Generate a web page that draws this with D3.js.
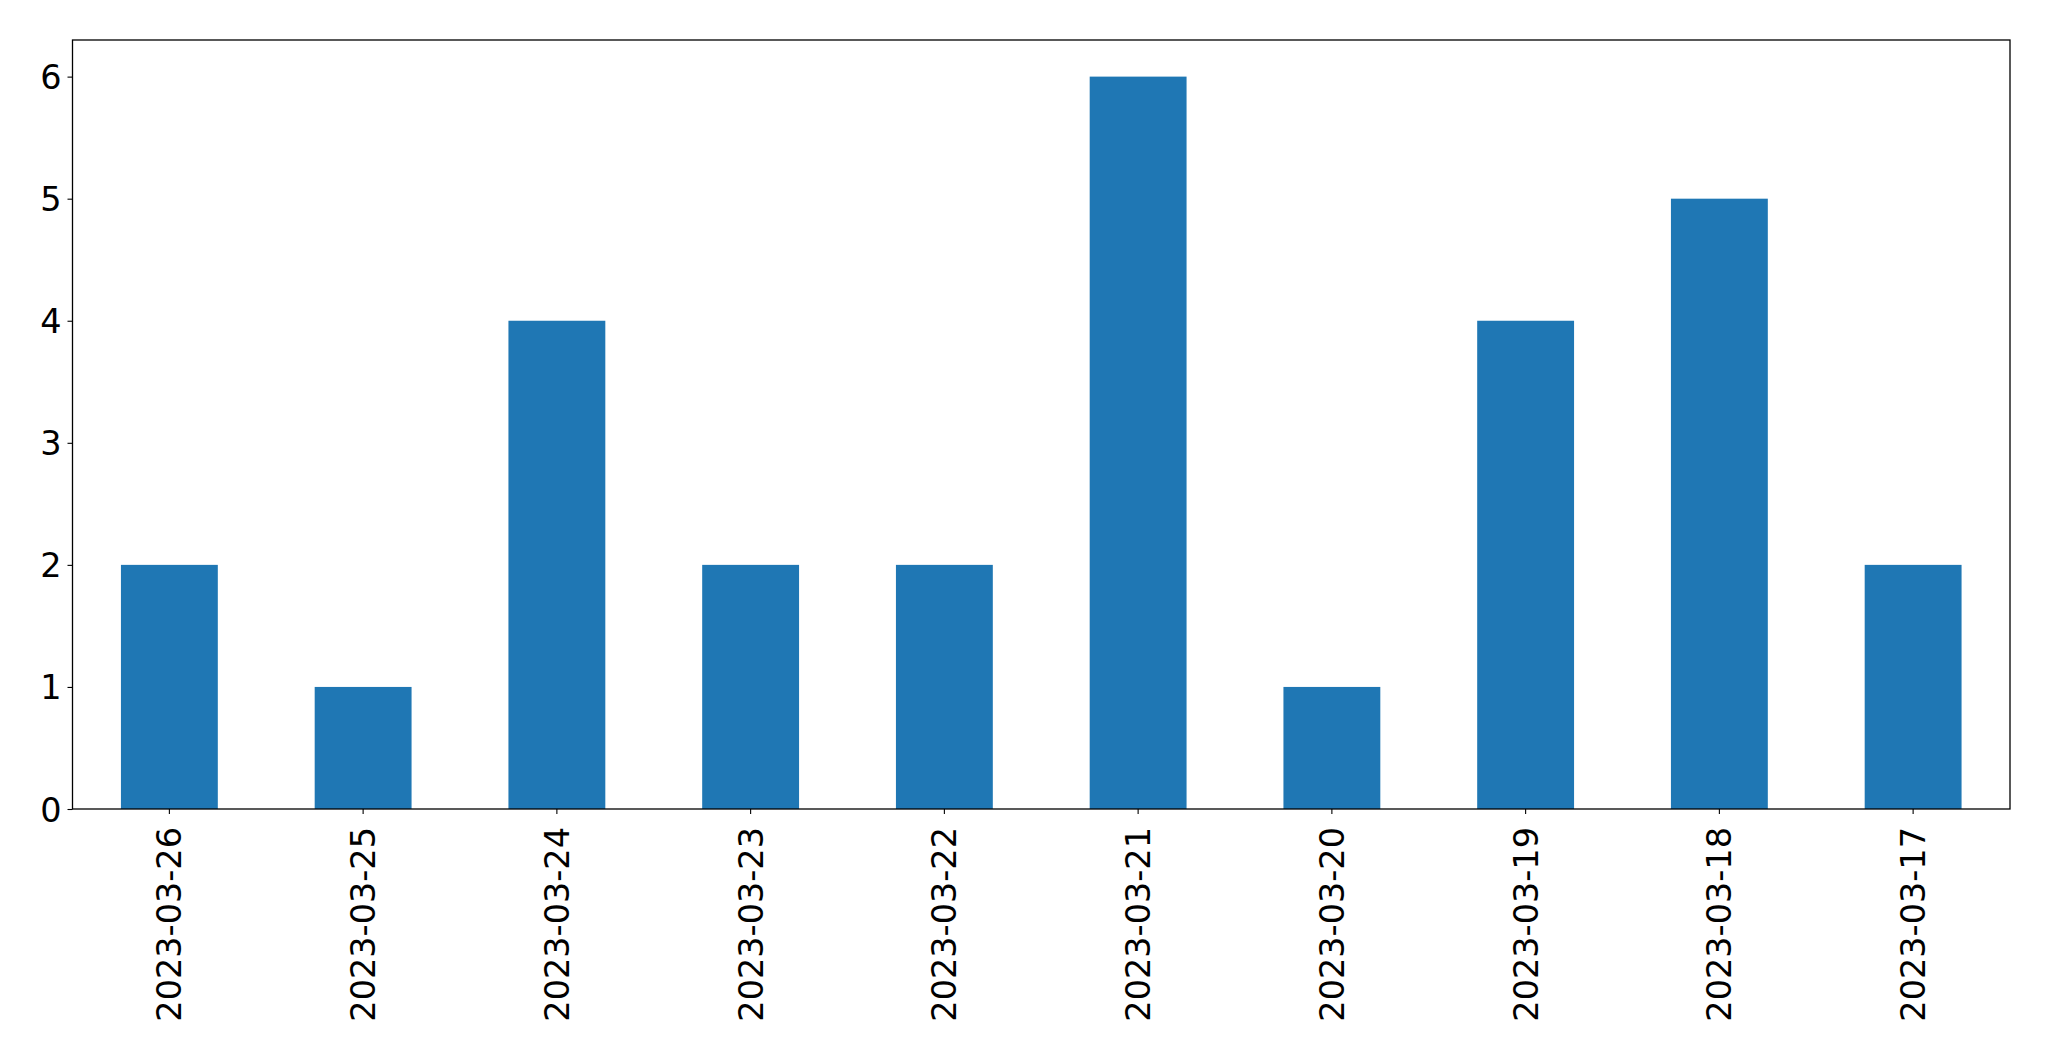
<!DOCTYPE html>
<html><head><meta charset="utf-8">
<script src="https://cdn.jsdelivr.net/npm/d3@7"></script>
<style>body{margin:0;background:#fff}svg{display:block}</style>
</head><body>
<script>
const categories = ["2023-03-26","2023-03-25","2023-03-24","2023-03-23","2023-03-22","2023-03-21","2023-03-20","2023-03-19","2023-03-18","2023-03-17"];
const values = [2,1,4,2,2,6,1,4,5,2];
const yTicks = [0,1,2,3,4,5,6];

const W = 2049, H = 1061;
const m = {left: 72.5, right: 2049 - 2010, top: 40, bottom: 1061 - 809};
const svg = d3.select("body").append("svg").attr("width", W).attr("height", H);
const font = "'DejaVu Sans', sans-serif";
const fs = 33.5;

const x = d3.scaleBand().domain(categories).range([m.left, W - m.right]).paddingInner(0.5).paddingOuter(0.25);
const y = d3.scaleLinear().domain([0, 6.3]).range([H - m.bottom, m.top]);

svg.append("g").selectAll("rect").data(values).join("rect")
  .attr("x", (d,i) => x(categories[i]))
  .attr("width", x.bandwidth())
  .attr("y", d => y(d))
  .attr("height", d => y(0) - y(d))
  .attr("fill", "#1f77b4");

const yAxis = svg.append("g").attr("transform", `translate(${m.left},0)`)
  .call(d3.axisLeft(y).tickValues(yTicks).tickFormat(d3.format("d")).tickSize(5).tickPadding(6));
yAxis.select(".domain").remove();
yAxis.selectAll("text").attr("font-size", fs).attr("font-family", font).attr("fill", "#000").attr("dy", "0.36em");
yAxis.selectAll("line").attr("stroke", "#000").attr("stroke-width", 1.1);

const xAxis = svg.append("g").attr("transform", `translate(0,${H - m.bottom})`)
  .call(d3.axisBottom(x).tickSize(5).tickPadding(0));
xAxis.select(".domain").remove();
xAxis.selectAll("line").attr("stroke", "#000").attr("stroke-width", 1.1);
xAxis.selectAll("text")
  .attr("font-size", fs).attr("font-family", font).attr("fill", "#000")
  .attr("transform", "rotate(-90)")
  .attr("text-anchor", "end")
  .attr("x", -18).attr("y", 0).attr("dy", "0.36em");

svg.append("rect")
  .attr("x", m.left).attr("y", m.top)
  .attr("width", W - m.right - m.left).attr("height", H - m.bottom - m.top)
  .attr("fill", "none").attr("stroke", "#000").attr("stroke-width", 1.3);
</script>
</body></html>
